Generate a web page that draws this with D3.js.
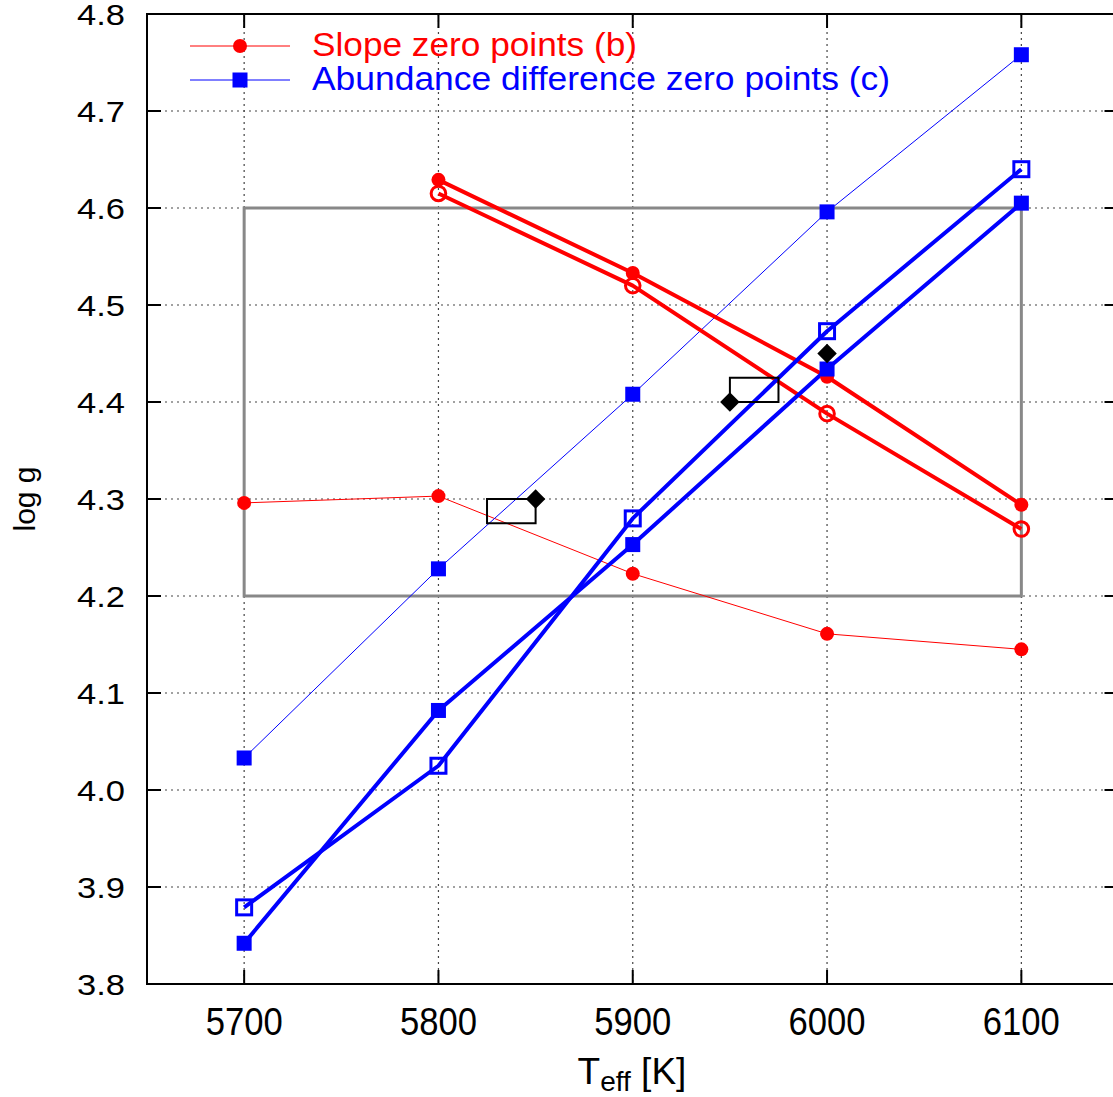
<!DOCTYPE html>
<html><head><meta charset="utf-8">
<script src="https://cdn.jsdelivr.net/npm/d3@7"></script>
<style>html,body{margin:0;padding:0;background:#fff;overflow:hidden}</style>
</head><body>
<svg id="chart" width="1113" height="1097"></svg>
<script>
// ---- data ----
const teff = [5700, 5800, 5900, 6000, 6100];
const slopeThin = [4.296, 4.303, 4.223, 4.161, 4.145];
const slopeThickFilled = [null, 4.629, 4.533, 4.426, 4.294];
const slopeThickOpen = [null, 4.615, 4.520, 4.388, 4.269];
const abundThin = [4.033, 4.228, 4.408, 4.596, 4.758];
const abundThickFilled = [3.842, 4.082, 4.253, 4.434, 4.605];
const abundThickOpen = [3.879, 4.025, 4.280, 4.473, 4.640];
const diamondTeff = [5850, 5950, 6000];
const diamondLogg = [4.30, 4.40, 4.45];
const boxTeff = [[5825, 5850], [5950, 5975]];
const boxLogg = [[4.275, 4.30], [4.40, 4.425]];
const grayBoxTeff = [5700, 6100];
const grayBoxLogg = [4.2, 4.6];
const xTicks = [5700, 5800, 5900, 6000, 6100];
const yTicks = [3.8, 3.9, 4.0, 4.1, 4.2, 4.3, 4.4, 4.5, 4.6, 4.7, 4.8];
const legendLabels = ["Slope zero points (b)", "Abundance difference zero points (c)"];

const RED = "#ff0000", BLUE = "#0000ff";
const svg = d3.select("#chart");
const L = 147, R = 1118.5, T = 14, B = 984;
const x = d3.scaleLinear().domain([5650, 6150]).range([L, R]);
const y = d3.scaleLinear().domain([3.8, 4.8]).range([B, T]);
const font = "'Liberation Sans', Arial, sans-serif";

// grid
const g = svg.append("g");
g.selectAll(".gx").data(xTicks).join("line")
  .attr("x1", d => x(d)).attr("x2", d => x(d)).attr("y1", T).attr("y2", B)
  .attr("stroke", "#444").attr("stroke-width", 1.2).attr("stroke-dasharray", "2,4");
g.selectAll(".gy").data(yTicks.slice(1, -1)).join("line")
  .attr("x1", L).attr("x2", R).attr("y1", d => y(d)).attr("y2", d => y(d))
  .attr("stroke", "#444").attr("stroke-width", 1.2).attr("stroke-dasharray", "2,4");

// gray box
svg.append("rect")
  .attr("x", x(grayBoxTeff[0])).attr("y", y(grayBoxLogg[1]))
  .attr("width", x(grayBoxTeff[1]) - x(grayBoxTeff[0]))
  .attr("height", y(grayBoxLogg[0]) - y(grayBoxLogg[1]))
  .attr("fill", "none").attr("stroke", "#888").attr("stroke-width", 3);

function pts(vals) { return teff.map((t, i) => [t, vals[i]]).filter(p => p[1] != null); }
const line = d3.line().x(d => x(d[0])).y(d => y(d[1]));

function drawLine(vals, color, w) {
  svg.append("path").datum(pts(vals)).attr("d", line)
    .attr("fill", "none").attr("stroke", color).attr("stroke-width", w).attr("stroke-linejoin", "round");
}
drawLine(slopeThin, RED, 1);
drawLine(abundThin, BLUE, 1);
drawLine(slopeThickFilled, RED, 4);
drawLine(slopeThickOpen, RED, 4);
drawLine(abundThickFilled, BLUE, 4);
drawLine(abundThickOpen, BLUE, 4);

function circles(vals, filled) {
  svg.append("g").selectAll("circle").data(pts(vals)).join("circle")
    .attr("cx", d => x(d[0])).attr("cy", d => y(d[1]))
    .attr("r", filled ? 7 : 7.3)
    .attr("fill", filled ? RED : "none").attr("stroke", filled ? "none" : RED).attr("stroke-width", 3);
}
function squares(vals, filled) {
  const s = 15;
  svg.append("g").selectAll("rect").data(pts(vals)).join("rect")
    .attr("x", d => x(d[0]) - s / 2).attr("y", d => y(d[1]) - s / 2)
    .attr("width", s).attr("height", s)
    .attr("fill", filled ? BLUE : "none").attr("stroke", filled ? "none" : BLUE).attr("stroke-width", 3);
}
circles(slopeThin, true);
circles(slopeThickFilled, true);
circles(slopeThickOpen, false);
squares(abundThin, true);
squares(abundThickFilled, true);
squares(abundThickOpen, false);

// black boxes and diamonds
svg.append("g").selectAll("rect").data(boxTeff.map((b, i) => [b, boxLogg[i]])).join("rect")
  .attr("x", d => x(d[0][0])).attr("y", d => y(d[1][1]))
  .attr("width", d => x(d[0][1]) - x(d[0][0])).attr("height", d => y(d[1][0]) - y(d[1][1]))
  .attr("fill", "none").attr("stroke", "#000").attr("stroke-width", 2);
const dia = d3.symbol().type(d3.symbolSquare).size(190);
svg.append("g").selectAll("path").data(diamondTeff.map((t, i) => [t, diamondLogg[i]])).join("path")
  .attr("d", dia).attr("transform", d => `translate(${x(d[0])},${y(d[1])}) rotate(45)`)
  .attr("fill", "#000");

// frame
svg.append("rect").attr("x", L).attr("y", T).attr("width", R - L).attr("height", B - T)
  .attr("fill", "none").attr("stroke", "#000").attr("stroke-width", 2);

// ticks (inward, all sides)
const tl = 14;
const tk = svg.append("g").attr("stroke", "#000").attr("stroke-width", 2);
xTicks.forEach(t => {
  tk.append("line").attr("x1", x(t)).attr("x2", x(t)).attr("y1", B).attr("y2", B - tl);
  tk.append("line").attr("x1", x(t)).attr("x2", x(t)).attr("y1", T).attr("y2", T + tl);
});
yTicks.forEach(t => {
  tk.append("line").attr("x1", L).attr("x2", L + tl).attr("y1", y(t)).attr("y2", y(t));
  tk.append("line").attr("x1", R).attr("x2", R - tl).attr("y1", y(t)).attr("y2", y(t));
});

// tick labels
svg.append("g").selectAll("text").data(xTicks).join("text")
  .attr("x", d => x(d)).attr("y", 1035).attr("text-anchor", "middle")
  .attr("font-family", font).attr("font-size", 38)
  .attr("textLength", 77).attr("lengthAdjust", "spacingAndGlyphs")
  .text(d => d);
svg.append("g").selectAll("text").data(yTicks).join("text")
  .attr("x", 125).attr("y", d => y(d) + 11).attr("text-anchor", "end")
  .attr("font-family", font).attr("font-size", 30)
  .attr("textLength", 48).attr("lengthAdjust", "spacingAndGlyphs")
  .text(d => d.toFixed(1));

// axis labels
const xl = svg.append("text").attr("x", 632).attr("y", 1084).attr("text-anchor", "middle")
  .attr("font-family", font).attr("font-size", 37);
xl.append("tspan").text("T");
xl.append("tspan").attr("dy", 7).attr("font-size", 28).text("eff");
xl.append("tspan").attr("dy", -7).text(" [K]");
svg.append("text").attr("transform", "translate(35,499) rotate(-90)").attr("text-anchor", "middle")
  .attr("font-family", font).attr("font-size", 30).text("log g");

// legend
const leg = [[RED, "circle"], [BLUE, "square"]];
leg.forEach((l, i) => {
  const ly = i === 0 ? 46 : 80;
  svg.append("line").attr("x1", 190).attr("x2", 290).attr("y1", ly).attr("y2", ly)
    .attr("stroke", l[0]).attr("stroke-width", 1);
  if (l[1] === "circle") svg.append("circle").attr("cx", 240).attr("cy", ly).attr("r", 7).attr("fill", l[0]);
  else svg.append("rect").attr("x", 232.5).attr("y", ly - 7.5).attr("width", 15).attr("height", 15).attr("fill", l[0]);
  svg.append("text").attr("x", 312).attr("y", ly + 10).attr("fill", l[0])
    .attr("font-family", font).attr("font-size", 33)
    .attr("textLength", i === 0 ? 325 : 578).attr("lengthAdjust", "spacingAndGlyphs")
    .text(legendLabels[i]);
});
</script>
</body></html>
